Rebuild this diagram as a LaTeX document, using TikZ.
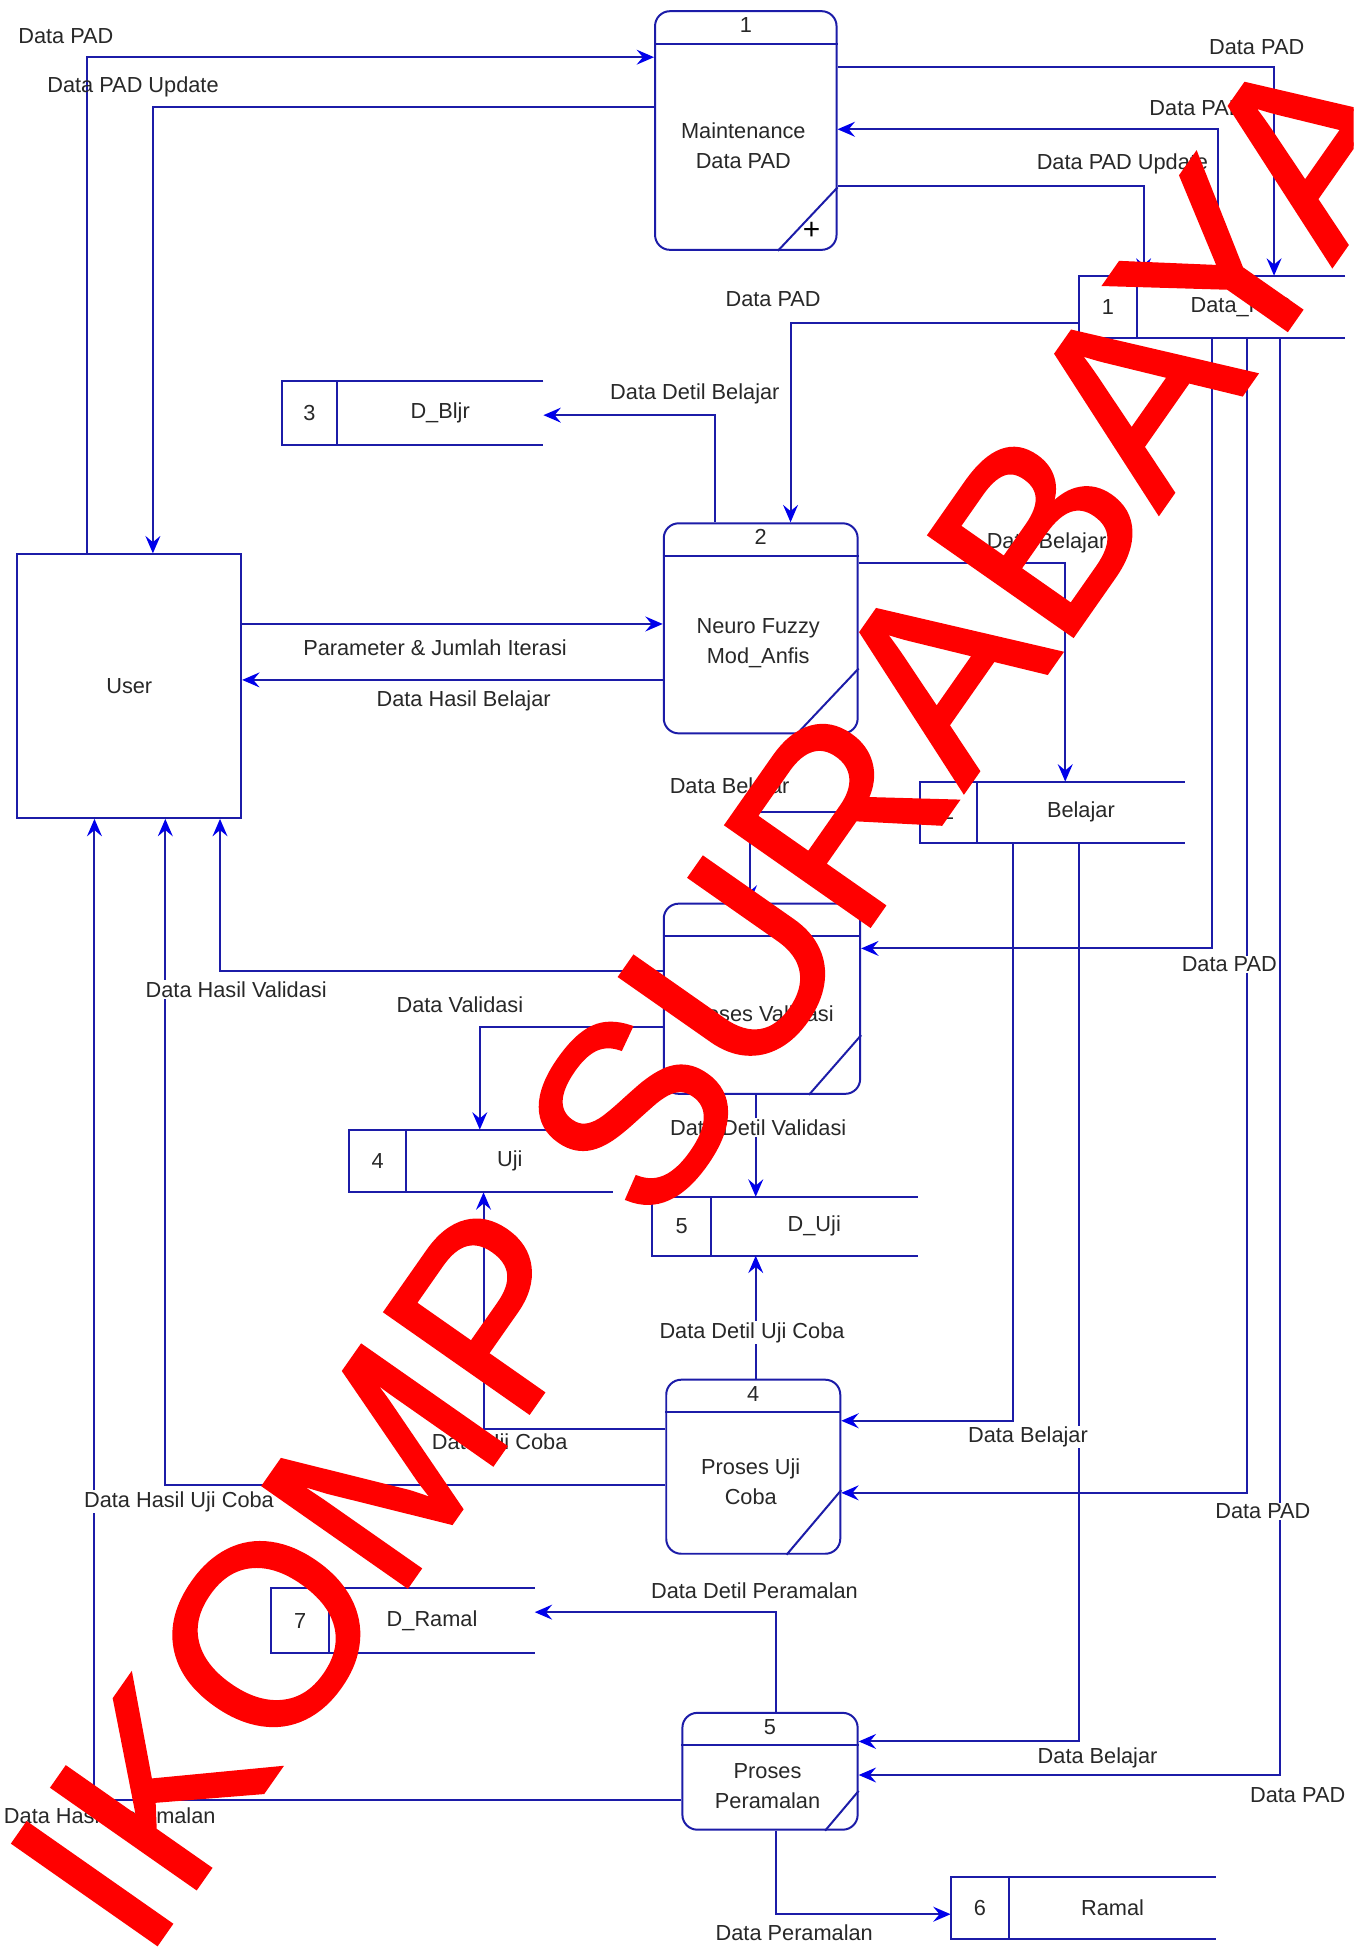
\documentclass[tikz,border=0pt]{standalone}
\usepackage{fontspec}
\setmainfont{Liberation Sans}
\newfontfamily\wmfont[FakeBold=1.5]{Liberation Sans}
\usetikzlibrary{arrows.meta,calc}

\definecolor{dfdline}{RGB}{28,28,168}
\definecolor{dfdarrow}{RGB}{0,0,235}
\definecolor{dfdtext}{RGB}{40,40,40}
\definecolor{wmred}{RGB}{255,0,0}

\newcommand{\dfdfont}{\fontsize{17.5}{24}\selectfont}

\tikzset{
  dfd/.style={draw=dfdline, line width=1.6pt},
  flow/.style={dfd, -{Stealth[length=14pt,width=12pt,inset=5pt,color=dfdarrow]}},
  proc/.style={dfd, rounded corners=12pt, inner sep=0pt},
  store/.style={inner sep=0pt},
  entity/.style={dfd, inner sep=0pt, text=dfdtext, font=\dfdfont},
  txt/.style={text=dfdtext, font=\dfdfont, inner sep=1pt},
  lbl/.style={txt, fill=white},
  wmark/.style={text=wmred, inner sep=0pt, font=\wmfont\fontsize{205}{205}\selectfont},
}

% process: name, x, y, width, height, number, text, corner cut dx, dy
\newcommand{\dfdproc}[9]{%
  \node[proc, minimum width=#4, minimum height=#5] (#1) at (#2,#3) {};
  \draw[dfd] ([yshift=-27pt]#1.north west) -- ([yshift=-27pt]#1.north east);
  \node[txt] (#1num) at ([yshift=-12pt]#1.north) {#6};
  \node[txt, align=center] (#1txt) at ([xshift=-2pt,yshift=-12pt]#1.center) {#7};
  \draw[dfd] ([xshift=-#8]#1.south east) -- ([yshift=#9]#1.south east);
}

% data store: name, x, y, width, height, divider x, number, text
\newcommand{\dfdstore}[8]{%
  \node[store, minimum width=#4, minimum height=#5] (#1) at (#2,#3) {};
  \draw[dfd] (#1.north east) -- (#1.north west) -- (#1.south west) -- (#1.south east);
  \draw[dfd] (#1.north -| #6,0) -- (#1.south -| #6,0);
  \node[txt] (#1num) at ($(#1.west)!0.5!(#1.center -| #6,0)$) {#7};
  \node[txt] (#1lbl) at ($(#1.east)!0.5!(#1.center -| #6,0)$) {#8};
}

\begin{document}
\begin{tikzpicture}[x=1pt,y=-1pt]
	\useasboundingbox (0,0) rectangle (1089,1568);
	\fill[white] (0,0) rectangle (1089,1568);

		%entity
			\node[entity, minimum width=180pt, minimum height=212pt] (user) at (104,552) {User};

		%processes
			\dfdproc{p1}{600}{105}{146pt}{192pt}{1}{Maintenance\\Data PAD}{48pt}{51pt}
			\node[text=black, font=\fontsize{24}{24}\selectfont, inner sep=0pt] (p1plus) at (653,186) {+};
			\dfdproc{p2}{612}{505.5}{156pt}{169pt}{2}{Neuro Fuzzy\\Mod\_Anfis}{50pt}{53pt}
			\dfdproc{p3}{613}{803.5}{158pt}{153pt}{3}{Proses Validasi}{42pt}{48pt}
			\dfdproc{p4}{606}{1180}{140pt}{140pt}{4}{Proses Uji\\Coba}{44pt}{52pt}
			\dfdproc{p5}{619.5}{1425}{141pt}{94pt}{5}{Proses\\Peramalan}{27pt}{32pt}

		%data stores
			\dfdstore{s1}{975}{247}{214pt}{50pt}{915}{1}{Data\_PAD}
			\dfdstore{s2}{846.5}{653.5}{213pt}{49pt}{786}{2}{Belajar}
			\dfdstore{s3}{332}{332.5}{210pt}{51pt}{271}{3}{D\_Bljr}
			\dfdstore{s4}{387}{934}{212pt}{50pt}{327}{4}{Uji}
			\dfdstore{s5}{631.5}{986.5}{213pt}{47pt}{572}{5}{D\_Uji}
			\dfdstore{s6}{871.5}{1535}{213pt}{50pt}{812}{6}{Ramal}
			\dfdstore{s7}{324}{1304}{212pt}{52pt}{265}{7}{D\_Ramal}

		%flows
			\draw[flow] (user.north -| 70,0) |- (p1.west |- 0,46);
			\draw[flow] (p1.west |- 0,86) -| (user.north -| 123,0);
			\draw[flow] (p1.east |- 0,54) -| (s1.north -| 1025,0);
			\draw[flow] (s1.north -| 980,0) |- (p1.east |- 0,104);
			\draw[flow] (p1.east |- 0,150) -| (s1.north -| 920,0);
			\draw[flow] (s1.west |- 0,260) -| (p2.north -| 636,0);
			\draw[flow] (p2.north -| 575,0) |- (s3.east |- 0,334);
			\draw[flow] (user.east |- 0,502) -- (p2.west |- 0,502);
			\draw[flow] (p2.west |- 0,547) -- (user.east |- 0,547);
			\draw[flow] (p2.east |- 0,453) -| (s2.north -| 857,0);
			\draw[flow] (s2.west |- 0,653) -| (p3.north -| 603,0);
			\draw[flow] (s1.south -| 975,0) |- (p3.east |- 0,763);
			\draw[flow] (p3.west |- 0,781) -| (user.south -| 177,0);
			\draw[flow] (p3.west |- 0,826) -| (s4.north -| 386,0);
			\draw[flow] (p3.south -| 608,0) -- (s5.north -| 608,0);
			\draw[flow] (p4.north -| 608,0) -- (s5.south -| 608,0);
			\draw[flow] (p4.west |- 0,1150) -| (s4.south -| 389,0);
			\draw[flow] (p4.west |- 0,1195) -| (user.south -| 133,0);
			\draw[flow] (s2.south -| 815,0) |- (p4.east |- 0,1143);
			\draw[flow] (s1.south -| 1003,0) |- (p4.east |- 0,1201);
			\draw[flow] (p5.north -| 624,0) |- (s7.east |- 0,1297);
			\draw[flow] (s2.south -| 868,0) |- (p5.east |- 0,1401);
			\draw[flow] (s1.south -| 1030,0) |- (p5.east |- 0,1428);
			\draw[flow] (p5.west |- 0,1448) -| (user.south -| 76,0);
			\draw[flow] (p5.south -| 624,0) |- (s6.west |- 0,1540);

		%flow labels
			\node[lbl] (l1) at (53,29) {Data PAD};
			\node[txt] (l2) at (107,70) {Data PAD Update};
			\node[lbl] (l3) at (1011,38) {Data PAD};
			\node[lbl] (l4) at (963,87) {Data PAD};
			\node[lbl] (l5) at (903,132) {Data PAD Update};
			\node[lbl] (l6) at (622,241) {Data PAD};
			\node[lbl] (l7) at (559,317) {Data Detil Belajar};
			\node[lbl] (l8) at (350,521) {Parameter \& Jumlah Iterasi};
			\node[lbl] (l9) at (373,564) {Data Hasil Belajar};
			\node[lbl] (l10) at (842,437) {Data Belajar};
			\node[lbl] (l11) at (587,634) {Data Belajar};
			\node[lbl] (l12) at (989,776) {Data PAD};
			\node[lbl] (l13) at (190,796) {Data Hasil Validasi};
			\node[lbl] (l14) at (370,808) {Data Validasi};
			\node[lbl] (l15) at (610,907) {Data Detil Validasi};
			\node[lbl] (l16) at (605,1072) {Data Detil Uji Coba};
			\node[lbl] (l17) at (402,1162) {Data Uji Coba};
			\node[lbl] (l18) at (144,1208) {Data Hasil Uji Coba};
			\node[lbl] (l19) at (827,1156) {Data Belajar};
			\node[lbl] (l20) at (1016,1216) {Data PAD};
			\node[lbl] (l21) at (607,1280) {Data Detil Peramalan};
			\node[lbl] (l22) at (883,1414) {Data Belajar};
			\node[lbl] (l23) at (1044,1444) {Data PAD};
			\node[lbl, anchor=west] (l24) at (2,1461) {Data Hasil Peramalan};
			\node[lbl] (l25) at (639,1555) {Data Peramalan};

		%watermark
			\begin{scope}
				\clip (0,0) rectangle (1089,1568);
				\node[wmark, rotate=55] (wm) at (575,800) {IKOMP SURABAYA};
			\end{scope}
\end{tikzpicture}
\end{document}
